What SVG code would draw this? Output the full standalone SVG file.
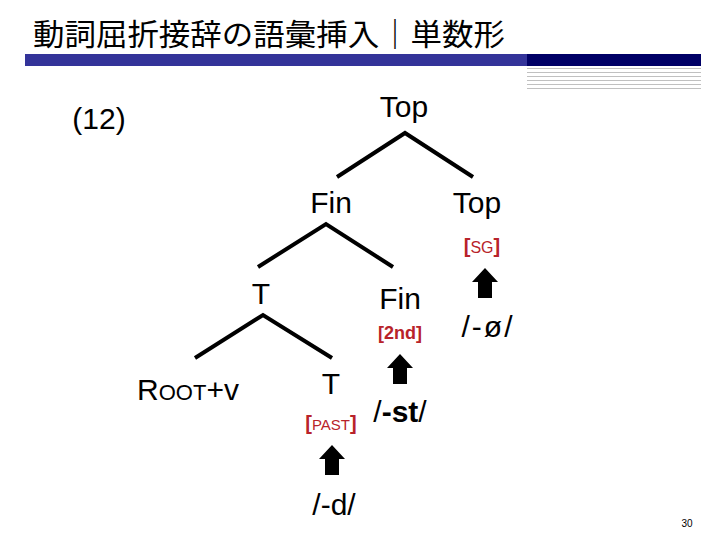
<svg xmlns="http://www.w3.org/2000/svg" width="720" height="540" viewBox="0 0 720 540">
<style>
.lbl{font-family:"Liberation Sans",Arial,sans-serif;font-size:30px;fill:#000;text-anchor:middle}
.feat{font-family:"Liberation Sans",Arial,sans-serif;fill:#b8232a;text-anchor:middle}
.br{font-size:20px;font-weight:bold}
.edge{stroke:#000;stroke-width:4;fill:none}
.rule{stroke:#c0c0c0;stroke-width:1}
</style>
<defs>
<path id="arrow" d="M0,0 L13,14 L7,14 L7,30 L-7,30 L-7,14 L-13,14 Z" fill="#000"/>
</defs>
<rect width="720" height="540" fill="#fff"/>
<g id="header">
<text x="33" y="45" font-family="'Noto Sans CJK JP','Noto Sans CJK SC',sans-serif" font-size="30" textLength="472" lengthAdjust="spacingAndGlyphs">動詞屈折接辞の語彙挿入｜単数形</text>
<rect x="25" y="54" width="502" height="12" fill="#333399"/>
<rect x="527" y="54" width="174" height="12" fill="#000066"/>
<line class="rule" x1="527" y1="68.5" x2="701" y2="68.5"/>
<line class="rule" x1="527" y1="72.5" x2="701" y2="72.5"/>
<line class="rule" x1="527" y1="76.5" x2="701" y2="76.5"/>
<line class="rule" x1="527" y1="80.5" x2="701" y2="80.5"/>
<line class="rule" x1="527" y1="84.5" x2="701" y2="84.5"/>
<line class="rule" x1="527" y1="88.5" x2="701" y2="88.5"/>
</g>
<text id="ex-num" x="99" y="129" class="lbl" font-size="29">(12)</text>
<g id="connectors">
<polyline class="edge" points="337,177 405,133 473,177"/>
<polyline class="edge" points="258,267 326,224 393,267"/>
<polyline class="edge" points="195,358 263,315 332,358"/>
<use href="#arrow" x="485" y="268"/>
<use href="#arrow" x="400" y="354"/>
<use href="#arrow" x="332" y="445"/>
</g>
<g id="node-top"><text class="lbl" x="404" y="117">Top</text></g>
<g id="node-fin"><text class="lbl" x="331" y="213">Fin</text></g>
<g id="node-top2"><text class="lbl" x="477" y="213">Top</text>
<text class="feat" x="482" y="253"><tspan class="br">[</tspan><tspan font-size="16">SG</tspan><tspan class="br">]</tspan></text></g>
<g id="node-t"><text class="lbl" x="261" y="304">T</text></g>
<g id="node-fin2"><text class="lbl" x="400" y="309">Fin</text>
<text class="feat" x="400" y="339" font-size="18" font-weight="bold">[2nd]</text></g>
<g id="node-root"><text class="lbl" x="188" y="400"><tspan>R</tspan><tspan font-size="22">OOT</tspan><tspan>+v</tspan></text></g>
<g id="node-t2"><text class="lbl" x="331" y="394">T</text>
<text class="feat" x="331" y="430"><tspan class="br">[</tspan><tspan font-size="15">PAST</tspan><tspan class="br">]</tspan></text></g>
<g id="exp-st"><text class="lbl" x="400" y="422">/<tspan font-weight="bold">-st</tspan>/</text></g>
<g id="exp-d"><text class="lbl" x="334" y="515">/-d/</text></g>
<g id="exp-null"><text class="lbl" x="488" y="337" letter-spacing="2">/-ø/</text></g>
<text x="687" y="527" font-family="'Liberation Sans',Arial,sans-serif" font-size="10" text-anchor="middle">30</text>
</svg>
